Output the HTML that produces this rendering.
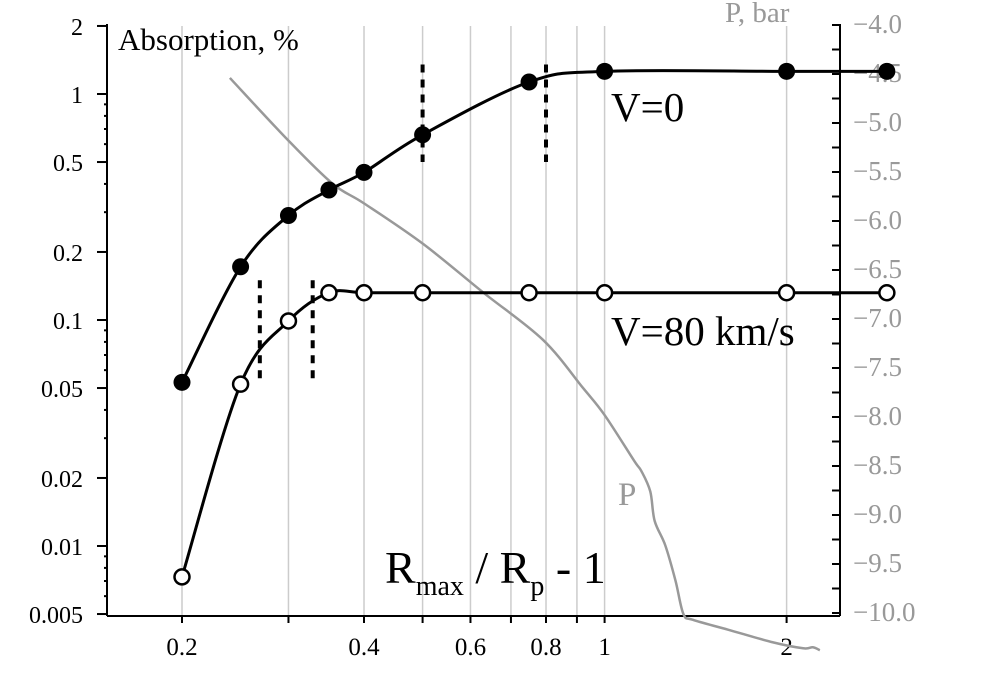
<!DOCTYPE html>
<html><head><meta charset="utf-8"><style>
body{margin:0;background:#fff}
svg{display:block;font-family:"Liberation Serif",serif}
</style></head><body>
<svg id="c" width="1004" height="691"></svg>
<script>
const v0X=[0.2,0.25,0.3,0.35,0.4,0.5,0.75,1,2,2.93];
const v0Y=[0.053,0.172,0.29,0.376,0.45,0.66,1.13,1.26,1.26,1.26];
const v80X=[0.2,0.25,0.3,0.35,0.4,0.5,0.75,1,2,2.93];
const v80Y=[0.0073,0.052,0.099,0.132,0.132,0.132,0.132,0.132,0.132,0.132];
const pX=[0.24,0.3,0.355,0.4,0.5,0.63,0.79,0.92,1.0,1.12,1.15,1.19,1.21,1.26,1.31,1.35,1.4,1.6,1.9,2.13,2.21,2.27];
const pY=[-4.54,-5.18,-5.62,-5.82,-6.23,-6.73,-7.21,-7.7,-7.98,-8.45,-8.55,-8.76,-9.06,-9.31,-9.67,-10.01,-10.07,-10.17,-10.3,-10.36,-10.35,-10.38];
const dashX=[0.269,0.329,0.5,0.8];
const dashTop=[0.15,0.15,1.35,1.35];
const dashBot=[0.055,0.055,0.5,0.5];
const yTicks=[2,1,0.5,0.2,0.1,0.05,0.02,0.01,0.005];
const xTicks=[0.2,0.4,0.6,0.8,1,2];
const xGrid=[0.2,0.3,0.4,0.5,0.6,0.7,0.8,0.9,1,2];
const pTicks=[-4,-4.5,-5,-5.5,-6,-6.5,-7,-7.5,-8,-8.5,-9,-9.5,-10];

const svg=document.getElementById('c');const NS='http://www.w3.org/2000/svg';
function X(v){return 182+604.6*Math.log10(v/0.2);}
function Y(v){return 94-226*Math.log10(v);}
function YP(v){return 25+98*(-4-v);}
function el(t,a,txt){const e=document.createElementNS(NS,t);for(const k in a)e.setAttribute(k,a[k]);if(txt!=null)e.textContent=txt;svg.appendChild(e);return e;}
const L=107,R=840,B=616;
xGrid.forEach(g=>{const e=el('line',{x1:X(g),x2:X(g),y1:26,y2:B,stroke:'#ccc','stroke-width':1.5});

});
let a=el('line',{x1:L,x2:L,y1:24,y2:B,stroke:'#000','stroke-width':2});
a=el('line',{x1:L,x2:R,y1:B,y2:B,stroke:'#000','stroke-width':2});
a=el('line',{x1:R,x2:R,y1:24,y2:B,stroke:'#000','stroke-width':2});
for(let d=-3;d<=0;d++)for(let m=1;m<10;m++){const v=m*Math.pow(10,d);if(v<0.005||v>2)continue;const y=Y(v);
const major=(m==1||m==2||m==5);
const t=el('line',{x1:L-(major?10:3),x2:L,y1:y,y2:y,stroke:'#000','stroke-width':2});

}
yTicks.forEach(v=>{const t=el('text',{x:83,y:Y(v)+9,'text-anchor':'end','font-size':24},String(v));

});
xGrid.forEach(v=>{const t=el('line',{x1:X(v),x2:X(v),y1:B,y2:B+7,stroke:'#000','stroke-width':2});

});
xTicks.forEach(v=>{const t=el('text',{x:X(v),y:655,'text-anchor':'middle','font-size':25},String(v));

});
for(let v=-4;v>=-10;v-=0.25){const y=YP(v);const t=el('line',{x1:R-8,x2:R,y1:y,y2:y,stroke:'#000','stroke-width':2});

}
pTicks.forEach(v=>{const y=YP(v);
const t=el('text',{x:853,y:y+8,'font-size':27,fill:'#999'},'\u2212'+Math.abs(v).toFixed(1));

});
function smooth(pts){let d='M'+pts[0][0]+','+pts[0][1];for(let i=0;i<pts.length-1;i++){const p0=pts[i-1]||pts[i],p1=pts[i],p2=pts[i+1],p3=pts[i+2]||p2;
d+=' C'+(p1[0]+(p2[0]-p0[0])/6)+','+(p1[1]+(p2[1]-p0[1])/6)+' '+(p2[0]-(p3[0]-p1[0])/6)+','+(p2[1]-(p3[1]-p1[1])/6)+' '+p2[0]+','+p2[1];}return d;}
a=el('path',{d:smooth(pX.map((x,i)=>[X(x),YP(pY[i])])),fill:'none',stroke:'#999','stroke-width':2.5});
dashX.forEach((x,i)=>{const t=el('line',{x1:X(x),x2:X(x),y1:Y(dashTop[i]),y2:Y(dashBot[i]),stroke:'#000','stroke-width':4,'stroke-dasharray':'8,7'});

});
a=el('path',{d:smooth(v0X.map((x,i)=>[X(x),Y(v0Y[i])])),fill:'none',stroke:'#000','stroke-width':3});
a=el('path',{d:smooth(v80X.map((x,i)=>[X(x),Y(v80Y[i])])),fill:'none',stroke:'#000','stroke-width':3});
v0X.forEach((x,i)=>{const c=el('circle',{cx:X(x),cy:Y(v0Y[i]),r:8.5,fill:'#000'});

});
v80X.forEach((x,i)=>{const c=el('circle',{cx:X(x),cy:Y(v80Y[i]),r:7.5,fill:'#fff',stroke:'#000','stroke-width':2.5});

});
</script>
<svg width="1004" height="691" style="position:absolute;left:0;top:0;font-family:'Liberation Serif',serif">
<text x="118" y="50" font-size="31">Absorption, %</text>
<text x="725" y="22" font-size="29" fill="#999">P, bar</text>
<text x="611" y="121" font-size="41">V=0</text>
<text x="611" y="345" font-size="41">V=80 km/s</text>
<text x="618" y="505" font-size="33" fill="#999">P</text>
<text x="385" y="583" font-size="46">R<tspan font-size="28" dy="12">max</tspan><tspan dy="-12"> / R</tspan><tspan font-size="28" dy="12">p</tspan><tspan dy="-12"> - 1</tspan></text>
</svg>
</body></html>
